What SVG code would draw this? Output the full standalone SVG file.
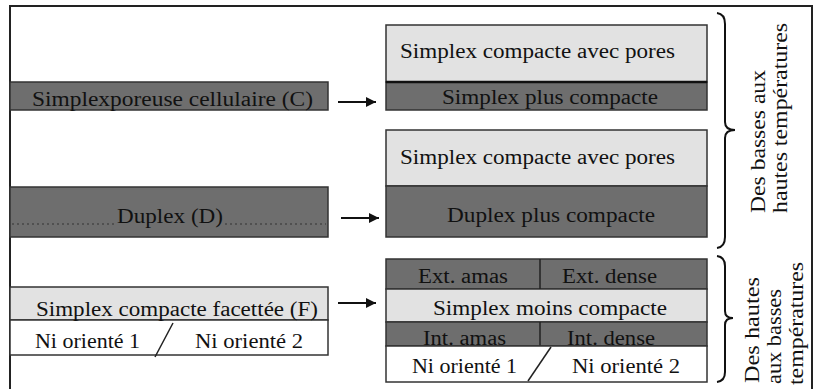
<svg xmlns="http://www.w3.org/2000/svg" width="817" height="389" viewBox="0 0 817 389">
<style>
.t{font-family:"Liberation Serif","Times New Roman",serif;font-size:20px;fill:#111}
.dk{fill:#6e6e6e;stroke:#333;stroke-width:1.5}
.lt{fill:#e2e2e2;stroke:#333;stroke-width:1.5}
.wh{fill:#fff;stroke:#333;stroke-width:1.5}
.ln{stroke:#222;stroke-width:1.5;fill:none}
.br{stroke:#111;stroke-width:2;fill:none}
.ar{stroke:#111;stroke-width:2;fill:none}
</style>
<defs>
<marker id="ah" viewBox="0 0 10 10" refX="10" refY="5" markerWidth="5" markerHeight="5" orient="auto" markerUnits="strokeWidth">
<path d="M0,0 L10,5 L0,10 z" fill="#111"/>
</marker>
</defs>
<rect x="0" y="0" width="817" height="389" fill="#fff"/>
<rect x="10" y="6" width="802" height="400" fill="none" stroke="#222" stroke-width="2"/>

<g id="nodeC">
<rect class="dk" x="10" y="82" width="318" height="28"/>
<text class="t" x="32" y="106" textLength="281" lengthAdjust="spacingAndGlyphs">Simplexporeuse cellulaire (C)</text>
</g>

<g id="nodeD">
<rect class="dk" x="10" y="187" width="318" height="50"/>
<line x1="12" y1="224" x2="115" y2="224" stroke="#333" stroke-width="1.2" stroke-dasharray="2,3"/>
<line x1="225" y1="224" x2="326" y2="224" stroke="#333" stroke-width="1.2" stroke-dasharray="2,3"/>
<text class="t" x="117" y="223" textLength="106" lengthAdjust="spacingAndGlyphs">Duplex (D)</text>
</g>

<g id="nodeF">
<rect class="lt" x="10" y="287" width="318" height="33"/>
<rect class="wh" x="10" y="320" width="318" height="35"/>
<line class="ln" x1="155" y1="357" x2="173" y2="323"/>
<text class="t" x="36" y="316" textLength="282" lengthAdjust="spacingAndGlyphs">Simplex compacte facettée (F)</text>
<text class="t" x="35" y="348" textLength="105" lengthAdjust="spacingAndGlyphs">Ni orienté 1</text>
<text class="t" x="195" y="348" textLength="108" lengthAdjust="spacingAndGlyphs">Ni orienté 2</text>
</g>

<g id="resultC">
<rect class="lt" x="386" y="25" width="321" height="57"/>
<rect class="dk" x="386" y="82" width="321" height="28"/>
<line x1="386" y1="82" x2="707" y2="82" stroke="#111" stroke-width="2.5"/>
<text class="t" x="400" y="58" textLength="275" lengthAdjust="spacingAndGlyphs">Simplex compacte avec pores</text>
<text class="t" x="442" y="104" textLength="216" lengthAdjust="spacingAndGlyphs">Simplex plus compacte</text>
</g>

<g id="resultD">
<rect class="lt" x="386" y="130" width="321" height="56"/>
<rect class="dk" x="386" y="186" width="321" height="51"/>
<text class="t" x="400" y="164" textLength="275" lengthAdjust="spacingAndGlyphs">Simplex compacte avec pores</text>
<text class="t" x="447" y="222" textLength="208" lengthAdjust="spacingAndGlyphs">Duplex plus compacte</text>
</g>

<g id="resultF">
<rect class="dk" x="386" y="259" width="321" height="30"/>
<rect class="lt" x="386" y="289" width="321" height="33"/>
<rect class="dk" x="386" y="322" width="321" height="24"/>
<line class="ln" x1="540" y1="259" x2="540" y2="289"/>
<line class="ln" x1="540" y1="322" x2="540" y2="346"/>
<text class="t" x="418" y="283" textLength="90" lengthAdjust="spacingAndGlyphs">Ext. amas</text>
<text class="t" x="562" y="283" textLength="95" lengthAdjust="spacingAndGlyphs">Ext. dense</text>
<text class="t" x="433" y="315" textLength="234" lengthAdjust="spacingAndGlyphs">Simplex moins compacte</text>
<text class="t" x="423" y="345" textLength="83" lengthAdjust="spacingAndGlyphs">Int. amas</text>
<text class="t" x="567" y="345" textLength="88" lengthAdjust="spacingAndGlyphs">Int. dense</text>
<rect class="wh" x="386" y="346" width="321" height="36"/>
<line class="ln" x1="528" y1="381" x2="551" y2="347"/>
<text class="t" x="412" y="373" textLength="105" lengthAdjust="spacingAndGlyphs">Ni orienté 1</text>
<text class="t" x="572" y="373" textLength="108" lengthAdjust="spacingAndGlyphs">Ni orienté 2</text>
</g>

<g id="connectors">
<line class="ar" x1="338" y1="102" x2="376" y2="102" marker-end="url(#ah)"/>
<line class="ar" x1="341" y1="218" x2="379" y2="218" marker-end="url(#ah)"/>
<line class="ar" x1="338" y1="303" x2="376" y2="303" marker-end="url(#ah)"/>
</g>

<g id="brace1">
<path class="br" d="M717,13 Q725,14 725,24 L725,122 Q725,130 735,130 Q725,130 725,138 L725,237 Q725,247 717,248"/>
<text class="t" transform="translate(765,213) rotate(-90)" textLength="143" lengthAdjust="spacingAndGlyphs">Des basses aux</text>
<text class="t" transform="translate(787,213) rotate(-90)" textLength="190" lengthAdjust="spacingAndGlyphs">hautes températures</text>
</g>

<g id="brace2">
<path class="br" d="M717,256 Q725,257 725,266 L725,311 Q725,318 733,318 Q725,318 725,325 L725,372 Q725,381 717,382"/>
<text class="t" transform="translate(759,383) rotate(-90)" textLength="106" lengthAdjust="spacingAndGlyphs">Des hautes</text>
<text class="t" transform="translate(781,384) rotate(-90)" textLength="95" lengthAdjust="spacingAndGlyphs">aux basses</text>
<text class="t" transform="translate(803,385) rotate(-90)" textLength="123" lengthAdjust="spacingAndGlyphs">températures</text>
</g>
</svg>
